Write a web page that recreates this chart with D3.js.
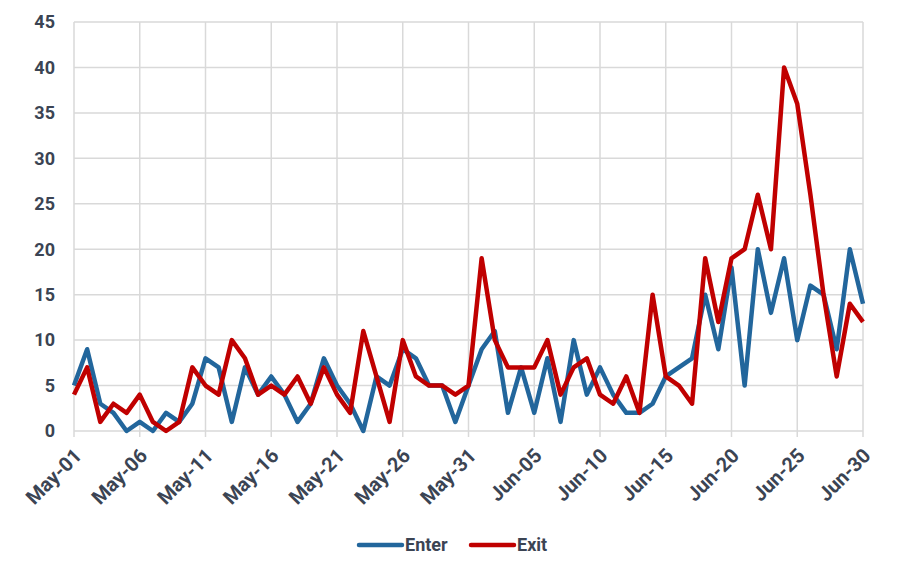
<!DOCTYPE html>
<html>
<head>
<meta charset="utf-8">
<script src="https://cdn.jsdelivr.net/npm/d3@7"></script>
<style>
  body { margin: 0; background: #fff; }
  text { font-family: Roboto, "Liberation Sans", sans-serif; font-weight: bold; fill: #3b4453; }
</style>
</head>
<body>
<script>
// daily counts, May-01 .. Jun-30
var enter = [5, 9, 3, 2, 0, 1, 0, 2, 1, 3, 8, 7, 1, 7, 4, 6, 4, 1, 3, 8, 5, 3, 0, 6, 5, 9, 8, 5, 5, 1, 5,
             9, 11, 2, 7, 2, 8, 1, 10, 4, 7, 4, 2, 2, 3, 6, 7, 8, 15, 9, 18, 5, 20, 13, 19, 10, 16, 15, 9, 20, 14];
var exit  = [4, 7, 1, 3, 2, 4, 1, 0, 1, 7, 5, 4, 10, 8, 4, 5, 4, 6, 3, 7, 4, 2, 11, 6, 1, 10, 6, 5, 5, 4, 5,
             19, 10, 7, 7, 7, 10, 4, 7, 8, 4, 3, 6, 2, 15, 6, 5, 3, 19, 12, 19, 20, 26, 20, 40, 36, 26, 15, 6, 14, 12];
var yTicks = [0, 5, 10, 15, 20, 25, 30, 35, 40, 45];

var fmt = d3.timeFormat("%b-%d");
var days = d3.timeDay.range(new Date(2020, 4, 1), new Date(2020, 6, 1));

var width = 903,
    height = 577,
    margin = {top: 22, right: 40, bottom: 146, left: 74};

var svg = d3.select("body").append("svg")
    .attr("width", width)
    .attr("height", height);

var x = d3.scaleTime()
    .domain([days[0], days[days.length - 1]])
    .range([margin.left, width - margin.right]);

var y = d3.scaleLinear()
    .domain([0, 45])
    .range([height - margin.bottom, margin.top]);

var xTicks = days.filter(function(d, i) { return i % 5 === 0; });

// grid
svg.append("g")
    .selectAll("line.h")
    .data(yTicks)
    .enter().append("line")
      .attr("x1", x.range()[0])
      .attr("x2", x.range()[1])
      .attr("y1", function(d) { return y(d); })
      .attr("y2", function(d) { return y(d); })
      .attr("stroke", "#d9d9d9")
      .attr("stroke-width", 1.5);

svg.append("g")
    .selectAll("line.v")
    .data(xTicks)
    .enter().append("line")
      .attr("x1", function(d) { return x(d); })
      .attr("x2", function(d) { return x(d); })
      .attr("y1", y(45))
      .attr("y2", y(0) + 6)
      .attr("stroke", "#d9d9d9")
      .attr("stroke-width", 1.5);

// y labels
svg.append("g")
    .selectAll("text")
    .data(yTicks)
    .enter().append("text")
      .attr("x", 55)
      .attr("y", function(d) { return y(d); })
      .attr("dy", "0.35em")
      .attr("text-anchor", "end")
      .style("font-size", "18px")
      .text(function(d) { return d; });

// x labels
svg.append("g")
    .selectAll("text")
    .data(xTicks)
    .enter().append("text")
      .attr("transform", function(d) { return "translate(" + (x(d) + 4) + "," + (y(0) + 21) + ") rotate(-45)"; })
      .attr("text-anchor", "end")
      .attr("dy", "0.35em")
      .style("font-size", "20px")
      .text(function(d) { return fmt(d); });

var line = d3.line()
    .x(function(d, i) { return x(days[i]); })
    .y(function(d) { return y(d); });

var series = [
  {name: "Enter", values: enter, color: "#22669c"},
  {name: "Exit", values: exit, color: "#c00000"}
];

svg.append("g")
    .selectAll("path")
    .data(series)
    .enter().append("path")
      .attr("d", function(d) { return line(d.values); })
      .attr("fill", "none")
      .attr("stroke", function(d) { return d.color; })
      .attr("stroke-width", 4.5)
      .attr("stroke-linejoin", "round");

// legend
var legend = svg.append("g")
    .selectAll("g")
    .data(series)
    .enter().append("g")
      .attr("transform", function(d, i) { return "translate(" + (i === 0 ? 359 : 471) + ",545)"; });

legend.append("line")
    .attr("x1", 0).attr("x2", 43)
    .attr("stroke", function(d) { return d.color; })
    .attr("stroke-width", 4.5)
    .attr("stroke-linecap", "round");

legend.append("text")
    .attr("x", 46)
    .attr("dy", "0.35em")
    .style("font-size", "18px")
    .text(function(d) { return d.name; });
</script>
</body>
</html>
